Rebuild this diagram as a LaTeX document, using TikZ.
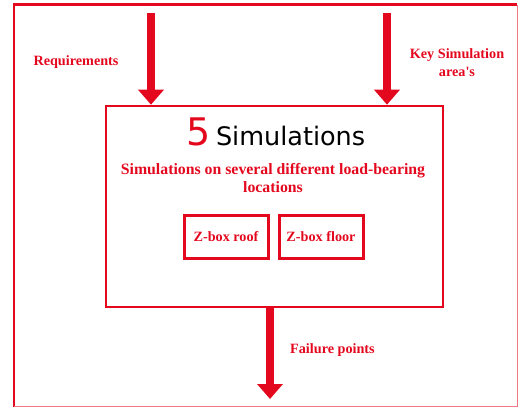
\documentclass[tikz,border=0pt]{standalone}
\usepackage{fontspec}
\setmainfont{Liberation Serif}[Ligatures=TeXOff]
\newfontfamily\titlefont{DejaVu Sans}
\usetikzlibrary{arrows.meta}
\definecolor{brandred}{RGB}{228,8,30}
\definecolor{framepink}{RGB}{240,120,130}
\begin{document}
\begin{tikzpicture}[x=1pt,y=-1pt,
  redlabel/.style={text=brandred,font=\bfseries\fontsize{14.2}{18}\selectfont,align=center,inner sep=0pt},
  mainbox/.style={draw=brandred,line width=2.6pt,minimum width=337pt,minimum height=201pt,inner sep=0pt},
  zbox/.style={draw=brandred,line width=3pt,minimum width=84pt,minimum height=43pt,inner sep=0pt,
    text=brandred,font=\bfseries\fontsize{14.2}{16}\selectfont},
  bigarrow/.style={draw=brandred,line width=8pt,-{Triangle[width=25pt,length=15pt]}}]
\useasboundingbox (0,0) rectangle (519,407);
% outer frame
\draw[brandred,line width=2.6pt] (14,407) -- (14,4.5) -- (517,4.5);
\draw[framepink,line width=1pt] (517,4.5) -- (517,406) -- (14,406);
% central block
\node[mainbox] (main) at (274.5,206.5) {};
\node[inner sep=0pt,anchor=base] (title) at (276,145)
  {{\titlefont\color{brandred}\fontsize{38}{40}\selectfont 5}\hspace{5pt}{\titlefont\fontsize{25.5}{28}\selectfont Simulations}};
\node[redlabel,font=\bfseries\fontsize{15.8}{18.5}\selectfont] (sub) at (273,178)
  {Simulations on several different load-bearing\\locations};
\node[zbox] (roof) at (226,236.5) {Z-box roof};
\node[zbox] (floor) at (321,236.5) {Z-box floor};
% inputs and output
\coordinate (reqtop) at (151,13);
\coordinate (keytop) at (387,13);
\coordinate (failend) at (270,399);
\draw[bigarrow] (reqtop) -- (main.north -| reqtop);
\draw[bigarrow] (keytop) -- (main.north -| keytop);
\draw[bigarrow] (main.south -| failend) -- (failend);
\node[redlabel] (req) at (76,62) {Requirements};
\node[redlabel] (key) at (457,63) {Key Simulation\\area's};
\node[redlabel,anchor=west] (fail) at (290,350) {Failure points};
\end{tikzpicture}
\end{document}
